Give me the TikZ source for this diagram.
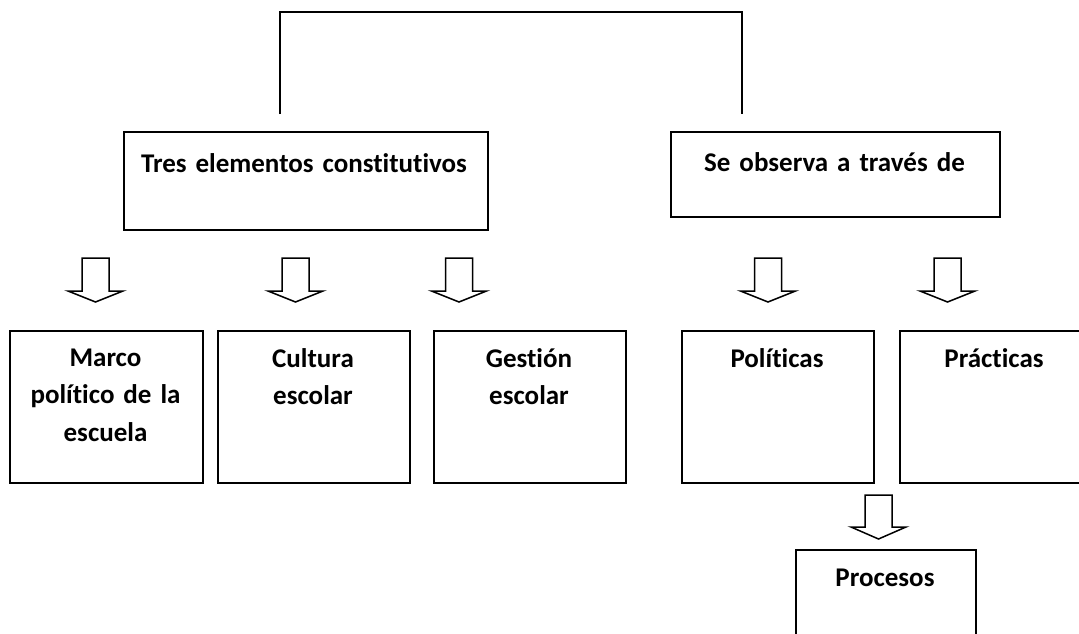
\documentclass[tikz,border=0pt]{standalone}
\usepackage{fontspec}
\setmainfont{Carlito}[WordSpace=0.6,Ligatures=NoCommon]
\begin{document}
\begin{tikzpicture}[x=1pt,y=-1pt,
  box/.style={draw=black,line width=1.5pt,inner sep=0pt,anchor=north west},
  lbl/.style={anchor=base,text width=200pt,align=center,inner sep=0pt,
    font=\fontsize{27}{37.5}\selectfont\bfseries},
  blk/.style={draw=black,line width=1.5pt,fill=white,line join=miter},
  conn/.style={draw=black,line width=1.5pt}]
\useasboundingbox (0,0) rectangle (1079,634);
\fill[white] (0,0) rectangle (1079,634);
\clip (0,0) rectangle (1079,634);
% top row boxes
\node[box,minimum width=364pt,minimum height=98pt] (tres) at (123,131) {};
\node[box,minimum width=329pt,minimum height=85pt] (seobs) at (670,131) {};
\node[lbl,text width=360pt] (trest) at (304,172) {Tres elementos constitutivos};
\node[lbl,text width=320pt] (seobst) at (834.5,171) {Se observa a través de};
% connector
\coordinate (c1) at (280,114);
\coordinate (c2) at (742,114);
\draw[conn] (c1) -- ++(0,-102) -| (c2);
% second row boxes
\node[box,minimum width=193pt,minimum height=152pt] (marco) at (9,330) {};
\node[box,minimum width=192pt,minimum height=152pt] (cultura) at (217,330) {};
\node[box,minimum width=192pt,minimum height=152pt] (gestion) at (433,330) {};
\node[box,minimum width=192pt,minimum height=152pt] (politicas) at (681,330) {};
\node[box,minimum width=192pt,minimum height=152pt] (practicas) at (899,330) {};
\node[box,minimum width=180pt,minimum height=120pt] (procesos) at (795,549) {};
\node[lbl,text width=190pt] (marcot) at (105.5,366) {Marco\\político de la\\escuela};
\node[lbl,text width=190pt] (culturat) at (313,367) {Cultura\\escolar};
\node[lbl,text width=190pt] (gestiont) at (529,367) {Gestión\\escolar};
\node[lbl,text width=190pt] (politicast) at (777,367) {Políticas};
\node[lbl,text width=190pt] (practicast) at (994,367) {Prácticas};
\node[lbl,text width=180pt] (procesost) at (885,586) {Procesos};
% block arrows
\foreach \cx in {95.5,295.5,459,768,947.5}{
  \draw[blk] (\cx-13.5,258) -- (\cx+13.5,258) -- (\cx+13.5,291) -- (\cx+27.5,291)
    -- (\cx,302) -- (\cx-27.5,291) -- (\cx-13.5,291) -- cycle;
}
\draw[blk] (865,495) -- (892,495) -- (892,527) -- (906,527) -- (878.5,539)
  -- (851,527) -- (865,527) -- cycle;
\end{tikzpicture}
\end{document}
